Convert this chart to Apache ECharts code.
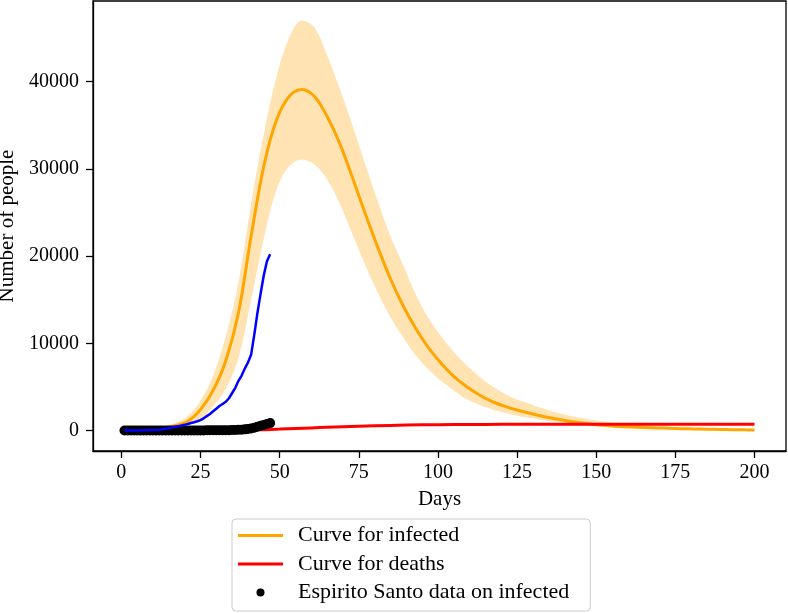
<!DOCTYPE html>
<html>
<head>
<meta charset="utf-8">
<script src="https://cdn.jsdelivr.net/npm/echarts@6/dist/echarts.min.js"></script>
<style>html,body{margin:0;padding:0;background:#fff}#c{width:788px;height:613px}</style>
</head>
<body>
<div id="c"></div>
<script>
// ---- data ----
const modelDays = [1,5,9,13,17,21,25,29,33,37,41,45,49,53,57,61,65,69,73,77,81,85,89,93,97,101,105,109,113,117,121,125,129,133,137,141,145,149,153,157,161,165,169,173,177,181,185,189,193,197,200];
const infectedMid = [40,80,150,300,550,1050,2400,4600,8000,13500,22300,30300,35600,38300,39100,38300,36000,32900,29000,24900,21000,17400,14300,11700,9500,7700,6200,5050,4100,3350,2800,2350,1980,1640,1350,1100,880,700,570,470,400,350,300,250,215,185,155,125,100,75,60];
const infectedUpper = [60,120,230,450,850,1650,3400,6300,10800,17000,26000,34000,40500,45000,47000,46200,43000,39200,35000,30600,26300,22300,19000,15600,12900,10800,9000,7500,6200,5100,4250,3550,3050,2550,2100,1750,1450,1200,1000,830,700,590,500,420,360,300,250,200,160,120,100];
const infectedLower = [20,45,85,170,320,600,1200,2800,4800,8300,15000,22000,27600,30300,31080,30500,28800,26000,22500,19000,15800,13000,10700,8600,7000,5700,4600,3600,2950,2450,2050,1700,1420,1200,1000,870,720,600,500,420,360,300,260,220,190,160,130,100,80,60,40];

const deathDays = [1,10,20,30,40,45,50,55,60,65,70,75,80,90,100,110,120,140,160,180,200];
const deathValues = [0,2,5,20,60,100,160,230,300,370,430,490,540,620,665,690,705,715,720,722,722];

const dataDays = [1,2,3,4,5,6,7,8,9,10,11,12,13,14,15,16,17,18,19,20,21,22,23,24,25,26,27,28,29,30,31,32,33,34,35,36,37,38,39,40,41,42,43,44,45,46,47];
const confirmedCases = [1,3,5,8,12,20,30,40,50,60,70,90,150,200,280,350,420,500,570,650,750,860,950,1060,1190,1400,1650,1900,2200,2500,2800,3050,3300,3700,4300,4900,5700,6300,7100,7800,8700,11000,13500,15700,17800,19400,20200];
const dataInfected = [0,0,0,0,0,0,0,0,0,0,0,0,0,0,0,5,5,5,5,10,10,10,10,15,15,15,20,20,20,25,30,30,35,40,50,60,80,100,130,170,230,330,430,540,640,740,850];

const xTicks = [0,25,50,75,100,125,150,175,200];
const yTicks = [0,10000,20000,30000,40000];

// ---- build ----
const pair = (xs, ys) => xs.map((x, i) => [x, ys[i]]);
const FONT = '"Liberation Serif", "Times New Roman", serif';
const SMOOTH = 0.35;

const chart = echarts.init(document.getElementById('c'), null, {renderer: 'canvas'});
chart.setOption({
  animation: false,
  backgroundColor: '#fff',
  grid: {left: 93, right: 2, top: 1, bottom: 162, containLabel: false, outerBoundsMode: 'none',
         show: true, borderColor: '#000', borderWidth: 1.3, backgroundColor: 'transparent'},
  xAxis: {
    type: 'value', min: -8.95, max: 209.95,
    name: 'Days', nameLocation: 'middle', nameGap: 38,
    nameTextStyle: {fontFamily: FONT, fontSize: 21, color: '#000'},
    axisLine: {show: true, onZero: false, lineStyle: {color: '#000', width: 1.3}},
    axisTick: {show: true, length: 7, customValues: xTicks, lineStyle: {color: '#000', width: 1.3}},
    axisLabel: {customValues: xTicks, margin: 12, fontFamily: FONT, fontSize: 20, color: '#000', formatter: v => String(v)},
    splitLine: {show: false}
  },
  yAxis: {
    type: 'value', min: -2350, max: 49250,
    name: 'Number of people', nameLocation: 'middle', nameGap: 63, nameRotate: 90,
    nameTextStyle: {fontFamily: FONT, fontSize: 21, color: '#000'},
    axisLine: {show: true, onZero: false, lineStyle: {color: '#000', width: 1.3}},
    axisTick: {show: true, length: 7, customValues: yTicks, lineStyle: {color: '#000', width: 1.3}},
    axisLabel: {customValues: yTicks, margin: 14, fontFamily: FONT, fontSize: 20, color: '#000', formatter: v => String(v)},
    splitLine: {show: false}
  },
  legend: {
    orient: 'vertical', left: 232, top: 519, z: 10,
    padding: [5, 21, 7, 6],
    itemWidth: 45, itemHeight: 8, itemGap: 5.5,
    backgroundColor: '#fff', borderColor: '#cccccc', borderWidth: 1, borderRadius: 4,
    textStyle: {fontFamily: FONT, fontSize: 22, color: '#000', padding: [0, 0, 0, 10], lineHeight: 23},
    data: [
      {name: 'Curve for infected', icon: 'path://M0,0H45V3H0Z', itemStyle: {color: '#ffa500'}},
      {name: 'Curve for deaths', icon: 'path://M0,0H45V3H0Z', itemStyle: {color: '#ff0000'}},
      {name: 'Espirito Santo data on infected', icon: 'circle', itemStyle: {color: '#000'}}
    ]
  },
  series: [
    {
      name: 'bandUpper', type: 'line', z: 1, symbol: 'none', smooth: SMOOTH,
      data: pair(modelDays, infectedUpper), lineStyle: {width: 0, opacity: 0},
      areaStyle: {color: '#ffe3b3', opacity: 1}, silent: true
    },
    {
      name: 'bandLower', type: 'line', z: 1, symbol: 'none', smooth: SMOOTH,
      data: pair(modelDays, infectedLower), lineStyle: {width: 0, opacity: 0},
      areaStyle: {color: '#ffffff', opacity: 1}, silent: true
    },
    {
      name: 'Curve for infected', type: 'line', z: 2, symbol: 'none', smooth: SMOOTH,
      data: pair(modelDays, infectedMid), lineStyle: {color: '#ffa500', width: 3}, itemStyle: {color: '#ffa500'}
    },
    {
      name: 'Curve for deaths', type: 'line', z: 3, symbol: 'none', smooth: SMOOTH,
      data: pair(deathDays, deathValues), lineStyle: {color: '#ff0000', width: 3}, itemStyle: {color: '#ff0000'}
    },
    {
      name: 'Espirito Santo data on infected', type: 'scatter', z: 4, symbol: 'circle', symbolSize: 10,
      data: pair(dataDays, dataInfected), itemStyle: {color: '#000', opacity: 1}
    },
    {
      name: 'confirmed', type: 'line', z: 5, symbol: 'none',
      data: pair(dataDays, confirmedCases), lineStyle: {color: '#0000ff', width: 2.5}, itemStyle: {color: '#0000ff'}
    }
  ]
});
</script>
</body>
</html>
